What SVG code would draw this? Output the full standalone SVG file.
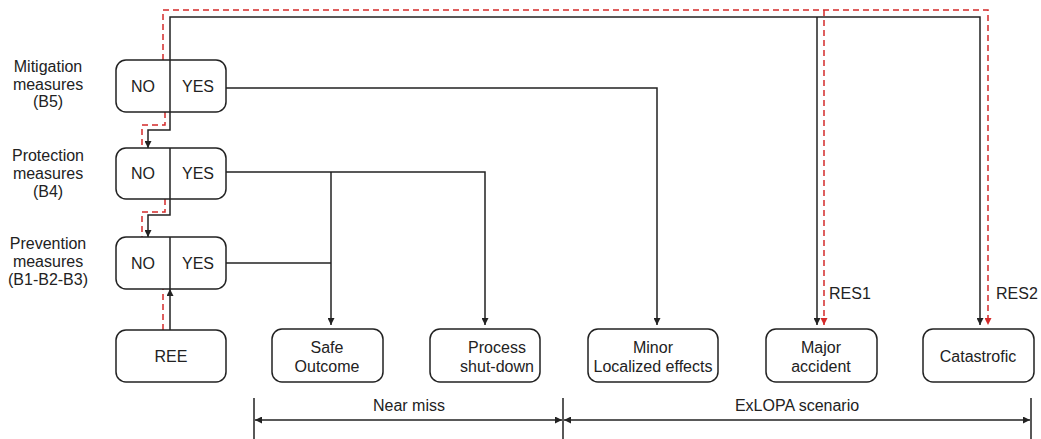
<svg xmlns="http://www.w3.org/2000/svg" width="1041" height="439" viewBox="0 0 1041 439">
<defs>
<marker id="ah" viewBox="0 0 10 10" refX="10" refY="5" markerWidth="7" markerHeight="7" markerUnits="userSpaceOnUse" orient="auto"><path d="M0,0 L10,5 L0,10 z" fill="#222"/></marker>
<marker id="ahr" viewBox="0 0 10 10" refX="10" refY="5" markerWidth="7" markerHeight="7" markerUnits="userSpaceOnUse" orient="auto"><path d="M0,0 L10,5 L0,10 z" fill="#d42a2a"/></marker>
</defs>
<style>
.box{fill:#fff;stroke:#222;stroke-width:1.5}
.t{font-family:"Liberation Sans",Arial,sans-serif;font-size:16px;fill:#222;text-anchor:middle}
.tl{font-family:"Liberation Sans",Arial,sans-serif;font-size:16px;fill:#222;text-anchor:start}
.ln{fill:none;stroke:#222;stroke-width:1.5}
.rd{fill:none;stroke:#d42a2a;stroke-width:1.5;stroke-dasharray:6,4}
</style>
<rect width="1041" height="439" fill="#fff"/>
<g id="connectors">
<path class="rd" d="M163,330 V289"/>
<path class="rd" d="M163,60 V10 H988 V325" marker-end="url(#ahr)"/>
<path class="rd" d="M824,10 V325" marker-end="url(#ahr)"/>
<path class="rd" d="M165,112 V125 H142 V148"/>
<path class="rd" d="M165,199 V212 H142 V237"/>
<path class="ln" d="M170,60 V17 H980 V325" marker-end="url(#ah)"/>
<path class="ln" d="M817,17 V325" marker-end="url(#ah)"/>
<path class="ln" d="M170,112 V130 H148 V148" marker-end="url(#ah)"/>
<path class="ln" d="M170,199 V215 H148 V237" marker-end="url(#ah)"/>
<path class="ln" d="M170,330 V289" marker-end="url(#ah)"/>
<path class="ln" d="M226,88 H657 V325" marker-end="url(#ah)"/>
<path class="ln" d="M226,172 H485 V325" marker-end="url(#ah)"/>
<path class="ln" d="M331,172 V325" marker-end="url(#ah)"/>
<path class="ln" d="M226,263 H331"/>
<path class="ln" d="M254,398 V439 M563,398 V439 M1031,398 V439"/>
<path class="ln" d="M409,420 H255" marker-end="url(#ah)"/>
<path class="ln" d="M409,420 H562" marker-end="url(#ah)"/>
<path class="ln" d="M797,420 H564" marker-end="url(#ah)"/>
<path class="ln" d="M797,420 H1030" marker-end="url(#ah)"/>
<text class="tl" x="829" y="299">RES1</text>
<text class="tl" x="996" y="299">RES2</text>
<text class="t" x="409" y="411">Near miss</text>
<text class="t" x="797" y="411">ExLOPA scenario</text>
</g>
<g id="mitigation">
<text class="t" x="48" y="72">Mitigation</text>
<text class="t" x="48" y="90">measures</text>
<text class="t" x="48" y="107">(B5)</text>
<rect class="box" x="116" y="60" width="110" height="52" rx="10"/>
<line class="ln" x1="170" y1="60" x2="170" y2="112"/>
<text class="t" x="143" y="92">NO</text>
<text class="t" x="198" y="92">YES</text>
</g>
<g id="protection">
<text class="t" x="48" y="161">Protection</text>
<text class="t" x="48" y="179">measures</text>
<text class="t" x="48" y="197">(B4)</text>
<rect class="box" x="116" y="148" width="110" height="51" rx="10"/>
<line class="ln" x1="170" y1="148" x2="170" y2="199"/>
<text class="t" x="143" y="179">NO</text>
<text class="t" x="198" y="179">YES</text>
</g>
<g id="prevention">
<text class="t" x="48" y="249">Prevention</text>
<text class="t" x="48" y="267">measures</text>
<text class="t" x="48" y="285">(B1-B2-B3)</text>
<rect class="box" x="116" y="237" width="110" height="52" rx="10"/>
<line class="ln" x1="170" y1="237" x2="170" y2="289"/>
<text class="t" x="143" y="269">NO</text>
<text class="t" x="198" y="269">YES</text>
</g>
<g id="ree">
<rect class="box" x="116" y="330" width="110" height="52" rx="10"/>
<text class="t" x="171" y="362">REE</text>
</g>
<g id="safe">
<rect class="box" x="272" y="329" width="111" height="53" rx="10"/>
<text class="t" x="327" y="353">Safe</text>
<text class="t" x="327" y="372">Outcome</text>
</g>
<g id="process">
<rect class="box" x="430" y="329" width="110" height="53" rx="10"/>
<text class="t" x="497" y="353">Process</text>
<text class="t" x="497" y="372">shut-down</text>
</g>
<g id="minor">
<rect class="box" x="588" y="329" width="130" height="53" rx="10"/>
<text class="t" x="653" y="353">Minor</text>
<text class="t" x="653" y="372">Localized effects</text>
</g>
<g id="major">
<rect class="box" x="766" y="329" width="111" height="53" rx="10"/>
<text class="t" x="821" y="353">Major</text>
<text class="t" x="821" y="372">accident</text>
</g>
<g id="catastrofic">
<rect class="box" x="923" y="329" width="111" height="53" rx="10"/>
<text class="t" x="978" y="362">Catastrofic</text>
</g>
</svg>
